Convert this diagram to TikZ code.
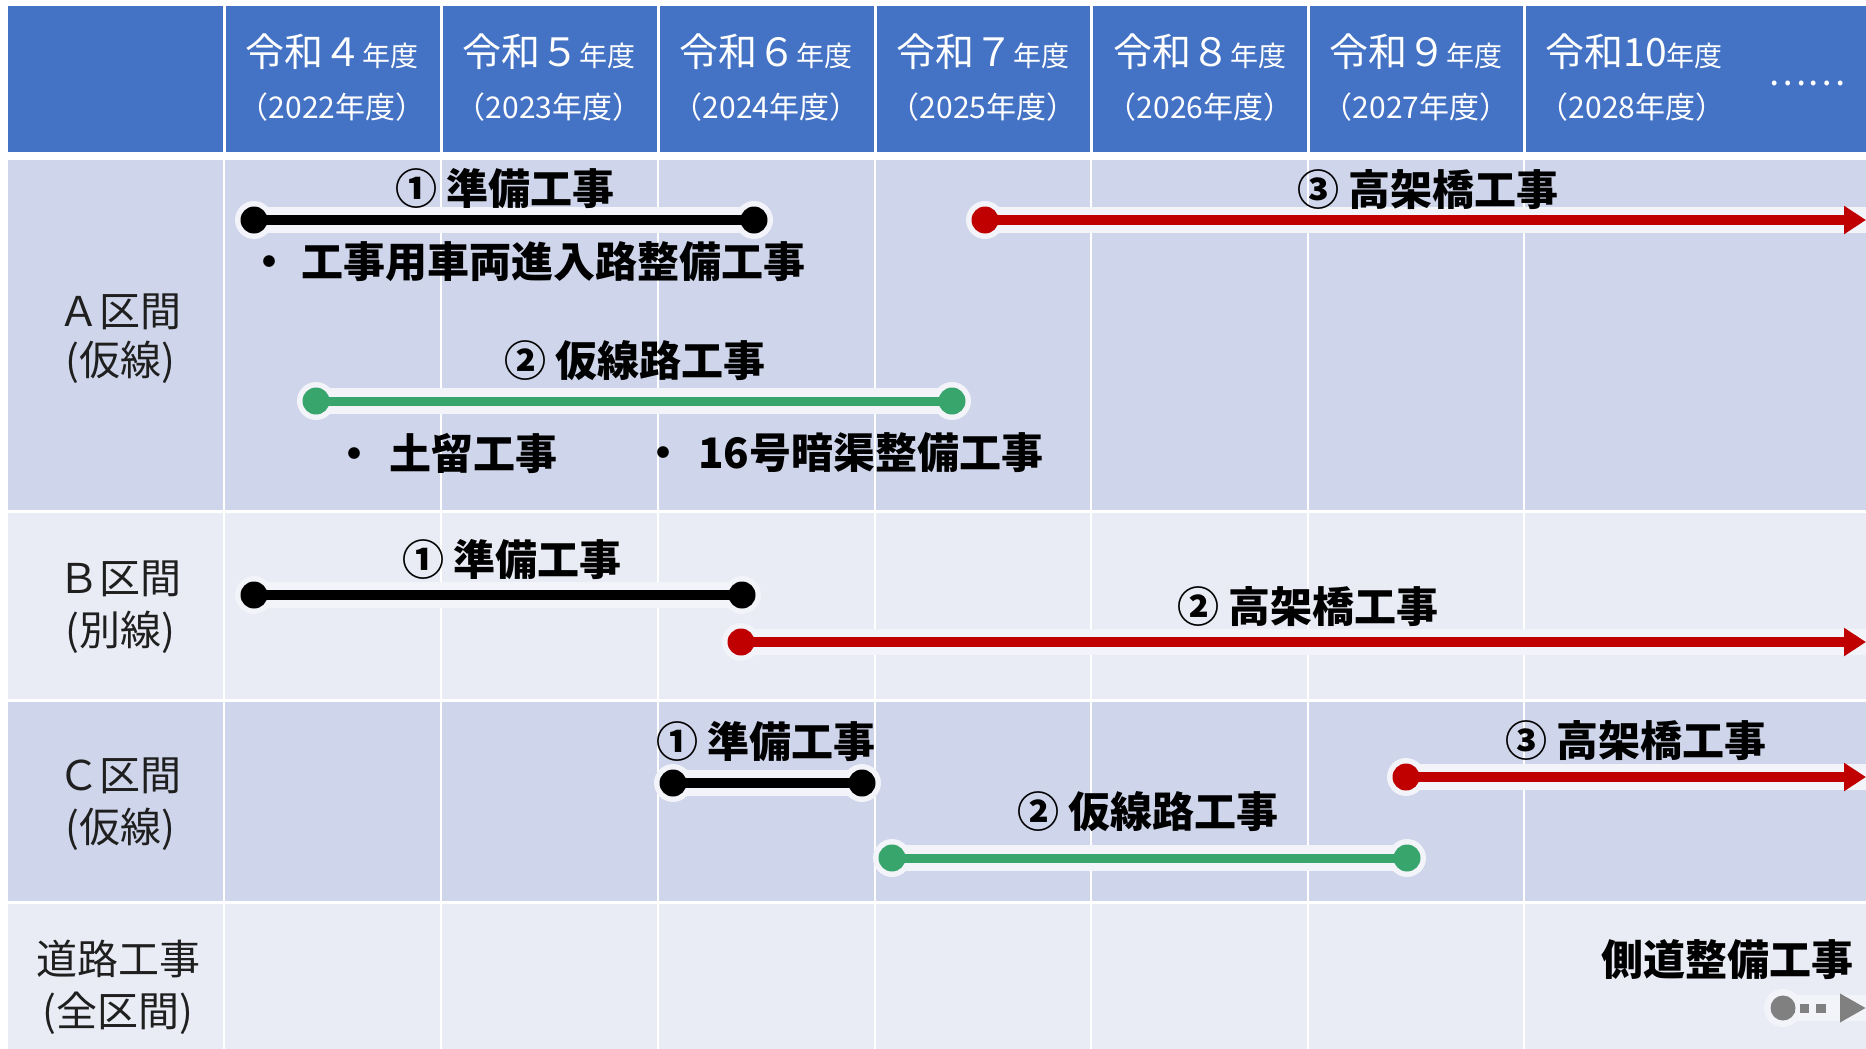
\documentclass[tikz,border=0pt]{standalone}
\usepackage{fontspec}
\setmainfont{Noto Sans CJK JP}
\usetikzlibrary{arrows.meta}
\definecolor{hdrblue}{HTML}{4472C4}
\definecolor{rowdark}{HTML}{CFD5EA}
\definecolor{rowlight}{HTML}{E9EBF5}
\definecolor{barred}{HTML}{C00000}
\definecolor{bargreen}{HTML}{38A56C}
\definecolor{bargray}{HTML}{808080}
\definecolor{glowc}{HTML}{F3F4FA}
\newcommand\HdrNendo{{\fontsize{28pt}{28pt}\selectfont 年度}}
\tikzset{
  hdrmain/.style={text=white, inner sep=0pt, font=\fontsize{39pt}{39pt}\selectfont},
  hdrsub/.style={text=white, inner sep=0pt, font=\fontsize{30pt}{30pt}\selectfont},
  hdrdots/.style={text=white, inner sep=0pt, font=\fontsize{36pt}{36pt}\selectfont},
  rowtxt/.style={text=black!88, inner sep=0pt, font=\fontsize{41pt}{41pt}\selectfont},
  bartxt/.style={text=black, inner sep=0pt, font=\fontsize{42pt}{42pt}\selectfont\bfseries},
  gridline/.style={draw=white, line width=2pt},
  hdrline/.style={draw=white, line width=3pt},
  glowbar/.style={draw=glowc, line width=26pt, line cap=round},
  glowdot/.style={fill=glowc},
  dotbase/.style={circle, inner sep=0pt, minimum size=27pt},
  dotblack/.style={dotbase, fill=black},
  dotred/.style={dotbase, fill=barred},
  dotgreen/.style={dotbase, fill=bargreen},
  dotgray/.style={dotbase, fill=bargray, minimum size=25pt},
  blackbar/.style={draw=black, line width=10pt},
  redbar/.style={draw=barred, line width=9.5pt, -{Triangle[length=22pt,width=27pt]}},
  greenbar/.style={draw=bargreen, line width=9pt},
  graybar/.style={draw=bargray, line width=9pt, dash pattern=on 12pt off 5pt on 9pt off 7pt on 10pt off 30pt, -{Triangle[length=26pt,width=27pt]}},
}
\begin{document}
\begin{tikzpicture}[x=1pt,y=-1pt]
\useasboundingbox (0,0) rectangle (1866,1049);
\fill[white] (0,0) rectangle (1866,1049);
% header
\fill[hdrblue] (8,6) rectangle (1866,152);
\foreach \x in {224,441,658,875,1091,1308,1524} \draw[hdrline] (\x,6) -- (\x,152);
% rows
\fill[rowdark] (8,160) rectangle (1866,510);
\fill[rowlight] (8,513) rectangle (1866,699);
\fill[rowdark] (8,702) rectangle (1866,901);
\fill[rowlight] (8,904) rectangle (1866,1049);
\foreach \x in {224,441,658,875,1091,1308,1524} \draw[gridline] (\x,160) -- (\x,1049);

% header texts
\node[hdrmain] (h1a) at (332,52) {令和４\HdrNendo};
\node[hdrsub]  (h1b) at (332,107) {（2022年度）};
\node[hdrmain] (h2a) at (549,52) {令和５\HdrNendo};
\node[hdrsub]  (h2b) at (549,107) {（2023年度）};
\node[hdrmain] (h3a) at (766,52) {令和６\HdrNendo};
\node[hdrsub]  (h3b) at (766,107) {（2024年度）};
\node[hdrmain] (h4a) at (983,52) {令和７\HdrNendo};
\node[hdrsub]  (h4b) at (983,107) {（2025年度）};
\node[hdrmain] (h5a) at (1200,52) {令和８\HdrNendo};
\node[hdrsub]  (h5b) at (1200,107) {（2026年度）};
\node[hdrmain] (h6a) at (1416,52) {令和９\HdrNendo};
\node[hdrsub]  (h6b) at (1416,107) {（2027年度）};
\node[hdrmain] (h7a) at (1634,52) {令和10\HdrNendo};
\node[hdrsub]  (h7b) at (1632,107) {（2028年度）};
\node[hdrdots] (hdots) at (1807,83) {……};

% row labels
\node[rowtxt] (ra1) at (120,312) {Ａ区間};
\node[rowtxt] (ra2) at (120,362) {(仮線)};
\node[rowtxt] (rb1) at (120,579) {Ｂ区間};
\node[rowtxt] (rb2) at (120,632) {(別線)};
\node[rowtxt] (rc1) at (120,776) {Ｃ区間};
\node[rowtxt] (rc2) at (120,829) {(仮線)};
\node[rowtxt] (rd1) at (118,959) {道路工事};
\node[rowtxt] (rd2) at (118,1013) {(全区間)};

% bar end coordinates
\coordinate (pa1s) at (254,220);  \coordinate (pa1e) at (754,220);
\coordinate (pa3s) at (985,220);  \coordinate (pa3e) at (1866,220);
\coordinate (pa2s) at (316,401);  \coordinate (pa2e) at (952,401);
\coordinate (pb1s) at (254,595);  \coordinate (pb1e) at (742,595);
\coordinate (pb2s) at (741,642);  \coordinate (pb2e) at (1866,642);
\coordinate (pc1s) at (673,783);  \coordinate (pc1e) at (862,783);
\coordinate (pc2s) at (892,858);  \coordinate (pc2e) at (1407,858);
\coordinate (pc3s) at (1406,777); \coordinate (pc3e) at (1866,777);
\coordinate (pds) at (1783,1008); \coordinate (pde) at (1866,1008);

% glow under bars
\foreach \s/\e in {pa1s/pa1e,pa3s/pa3e,pa2s/pa2e,pb1s/pb1e,pb2s/pb2e,pc1s/pc1e,pc2s/pc2e,pc3s/pc3e,pds/pde}
  \draw[glowbar] (\s) -- (\e);
\foreach \p in {pa1s,pa1e,pa3s,pa2s,pa2e,pb1s,pb1e,pb2s,pc1s,pc1e,pc2s,pc2e,pc3s,pds}
  \fill[glowdot] (\p) circle[radius=19pt];

% dots
\node[dotblack] (a1s) at (pa1s) {};
\node[dotblack] (a1e) at (pa1e) {};
\node[dotred]   (a3s) at (pa3s) {};
\node[dotgreen] (a2s) at (pa2s) {};
\node[dotgreen] (a2e) at (pa2e) {};
\node[dotblack] (b1s) at (pb1s) {};
\node[dotblack] (b1e) at (pb1e) {};
\node[dotred]   (b2s) at (pb2s) {};
\node[dotblack] (c1s) at (pc1s) {};
\node[dotblack] (c1e) at (pc1e) {};
\node[dotgreen] (c2s) at (pc2s) {};
\node[dotgreen] (c2e) at (pc2e) {};
\node[dotred]   (c3s) at (pc3s) {};
\node[dotgray]  (ds)  at (pds) {};

% bars
\draw[blackbar] (a1s.center) -- (a1e.center);
\draw[redbar]   (a3s.center) -- (pa3e);
\draw[greenbar] (a2s.center) -- (a2e.center);
\draw[blackbar] (b1s.center) -- (b1e.center);
\draw[redbar]   (b2s.center) -- (pb2e);
\draw[blackbar] (c1s.center) -- (c1e.center);
\draw[greenbar] (c2s.center) -- (c2e.center);
\draw[redbar]   (c3s.center) -- (pc3e);
\draw[graybar]  (ds.center) -- (pde);

% bar labels
\node[bartxt] (ta1) at (505,189) {① 準備工事};
\node[bartxt, anchor=west] (ta1b) at (248,262) {・\hspace{11pt}工事用車両進入路整備工事};
\node[bartxt] (ta3) at (1428,190) {③ 高架橋工事};
\node[bartxt] (ta2) at (635,361) {② 仮線路工事};
\node[bartxt, anchor=west] (ta2b) at (333,453) {・\hspace{14pt}土留工事};
\node[bartxt, anchor=west] (ta2c) at (642,453) {・\hspace{14pt}16号暗渠整備工事};
\node[bartxt] (tb1) at (512,560) {① 準備工事};
\node[bartxt] (tb2) at (1308,607) {② 高架橋工事};
\node[bartxt] (tc1) at (766,742) {① 準備工事};
\node[bartxt] (tc2) at (1148,812) {② 仮線路工事};
\node[bartxt] (tc3) at (1636,741) {③ 高架橋工事};
\node[bartxt] (td)  at (1727,960) {側道整備工事};
\end{tikzpicture}
\end{document}
